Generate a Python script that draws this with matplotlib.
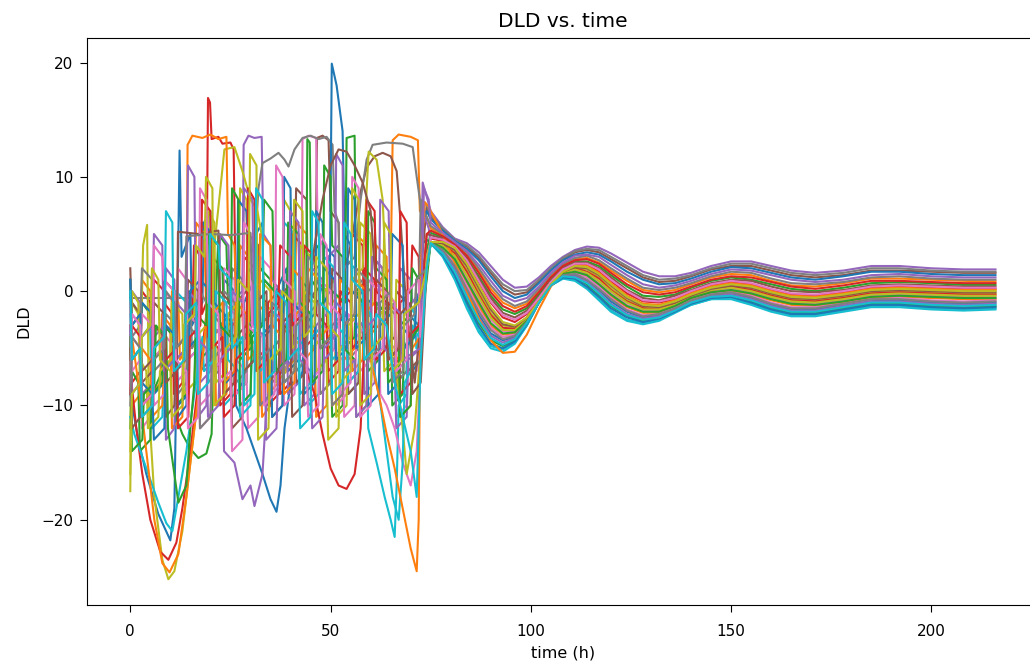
import matplotlib
matplotlib.use("Agg")
import matplotlib.pyplot as plt

# shared sample times for the settling part of every run (h)
tail_t = [75, 78, 81, 84, 87, 90, 93, 96, 99, 102, 105, 108, 111, 114, 117, 120, 124,
          128, 132, 136, 140, 145, 150, 155, 160, 165, 171, 178, 185, 192, 200, 208, 216]

# early part of each run as (time, DLD) pairs, settling part sampled on tail_t
early00 = [(0, -9), (2, -13), (4, -16), (7, -19.5), (10, -21.8), (11, -19), (11.5, -8), (12.3, 12.3),
           (12.8, 3), (15, 5), (15.4, -3), (18, -1), (18.4, 6), (20, 7), (20.4, -6), (23, -5), (23.4, 1),
           (26, 0), (26.4, -9), (28, -8), (28.4, -1), (31, 1), (31.4, 5), (33, 6), (33.4, -4), (36, -3),
           (36.4, 0), (39, 2), (39.4, -7), (42, -6), (42.4, 1), (45, 0), (45.4, -5), (48, -4), (48.4, 4),
           (51, 3), (51.4, -3), (54, -2), (54.4, -9), (57, -8), (57.4, 0), (60, -1), (60.4, -6), (63, -5),
           (63.4, -2), (66, -1), (66.4, -8), (69, -7), (69.4, -2), (72, -3), (72.4, 4), (74, 4.5)]
tail00 = [4.2, 3.5, 2.1, 0.0, -2.1, -3.7, -4.3, -4.0, -2.7, -1.0, 0.5, 1.3, 1.4, 0.9, 0.1, -0.9, -1.8,
          -2.3, -2.1, -1.5, -0.9, -0.3, -0.2, -0.6, -1.2, -1.6, -1.6, -1.2, -0.8, -0.8, -1.0, -1.1, -1.0]

early01 = [(0, -1), (0.4, -6), (2.5, -5), (2.9, 1), (5, 0), (5.4, -9), (7.5, -8), (7.9, -2), (10, -3),
           (10.4, -12), (13, -11), (13.4, -4), (16, -2), (16.4, 6), (18.5, 5), (18.9, -1), (21, -2),
           (21.4, -10), (24, -9), (24.4, -3), (27, -2), (27.4, 4), (29.5, 3), (29.9, -5), (32.5, -6),
           (32.9, -11), (35, -10), (35.4, -2), (38, -3), (38.4, -7), (41, -6), (41.4, 6), (44, 5),
           (44.4, -3), (47, -4), (47.4, -9), (50, -8), (50.4, -1), (53, 0), (53.4, -6), (56, -5), (56.4, 5),
           (59, 4), (59.4, -4), (62, -3), (62.4, 1), (65, 2), (65.5, 13.2), (67, 13.7), (70, 13.5),
           (71.8, 13.2), (72.3, 7), (74, 6.5)]
tail01 = [5.5, 4.9, 4.2, 3.2, 1.8, 0.2, -1.0, -1.5, -1.1, 0.1, 1.3, 2.3, 2.8, 2.9, 2.5, 1.8, 0.9,
          0.1, -0.1, 0.1, 0.6, 1.2, 1.5, 1.4, 0.9, 0.5, 0.4, 0.7, 1.1, 1.1, 1.0, 0.9, 0.85]

early02 = [(0, 1), (0.4, -6), (2.5, -5), (2.9, -1), (5, -2), (5.4, -9), (8, -7), (8.4, -3), (11, -4),
           (11.4, -11), (13, -12.5), (15, -13.8), (17, -14.6), (19, -14.2), (20.3, -12.5), (20.8, -6),
           (22, 5), (24, 4), (24.4, -1), (27, -2), (27.4, -6), (30, -5), (30.4, 1), (33, 2), (33.4, 8),
           (35.5, 7), (35.9, 0), (38, -1), (38.4, -8), (41, -7), (41.4, -2), (44, -1), (44.4, 3), (47, 4),
           (47.4, -4), (50, -5), (50.4, -11), (53, -10), (53.4, -5), (56, -4), (56.4, 0), (59, 1),
           (59.4, -7), (62, -6), (62.4, -2), (65, -1), (65.4, -10), (68, -9), (68.4, -5), (71, -3),
           (71.4, 1), (73, 2), (74, 3)]
tail02 = [4.2, 3.3, 1.5, -0.8, -2.8, -4.3, -4.8, -4.3, -2.9, -1.0, 0.5, 1.2, 1.2, 0.6, -0.4, -1.3, -2.2,
          -2.6, -2.4, -1.7, -1.0, -0.5, -0.5, -0.9, -1.5, -1.9, -1.9, -1.5, -1.1, -1.1, -1.3, -1.4, -1.3]

early03 = [(0, -3), (0.4, -8), (2.5, -7), (2.9, 0), (5, -1), (5.4, -6), (8, -5), (8.4, -1), (10.5, -2),
           (10.9, -9), (13, -8), (13.4, -3), (15.5, -2), (15.9, 4), (17.5, 3), (17.9, -2), (19, -1),
           (19.4, 16.9), (19.9, 16.5), (20.3, 13.3), (22, 13.5), (23, 12.9), (25, 13.0), (25.8, 12.4),
           (26.3, 0), (28, -1), (28.4, -7), (31, -6), (31.4, 0), (34, -1), (34.4, -10), (37, -9),
           (37.4, -3), (40, -2), (40.4, 5), (43, 4), (43.4, -5), (46, -4), (46.4, 1), (49, 0), (49.4, -8),
           (52, -7), (52.4, -1), (55, 0), (55.4, 5), (58, 4), (58.4, -4), (61, -3), (61.4, 1), (64, 0),
           (64.4, -7), (67, -6), (67.4, -1), (70, 0), (70.4, 4), (72, 3), (72.4, -3), (74, 3.5)]
tail03 = [4.6, 4.4, 3.9, 2.6, 0.8, -1.0, -2.3, -2.7, -2.0, -0.7, 0.8, 1.8, 2.3, 2.3, 1.7, 0.9, -0.2,
          -0.9, -1.0, -0.7, -0.1, 0.5, 0.8, 0.6, 0.1, -0.3, -0.4, -0.1, 0.3, 0.4, 0.3, 0.2, 0.2]

early04 = [(0, -5), (0.4, 0), (2.5, -1), (2.9, -9), (5.5, -8), (5.9, -4), (8.5, -3), (8.9, 2), (11, 1),
           (11.4, -6), (14, -5), (14.4, -1), (16.5, -2), (16.9, -11), (19, -10), (19.4, -3), (22, -2),
           (22.4, 5), (24.5, 4), (24.9, -1), (28, 0), (28.3, 12.8), (29.5, 13.6), (31, 13.4), (32.8, 13.5),
           (33.2, 5), (35, 4), (35.4, 1), (37.5, 0), (37.9, -7), (40.5, -6), (40.9, -1), (43, -2),
           (43.4, -10), (46, -9), (46.4, -3), (49, -2), (49.4, 3), (52, 4), (52.4, -5), (55, -4), (55.4, 0),
           (58, -1), (58.4, -9), (61, -8), (61.4, -2), (64, -3), (64.4, -6), (67, -5), (67.4, 2), (70, 1),
           (70.4, -1), (72.4, 0), (73, 9.5)]
tail04 = [7.0, 5.6, 4.6, 4.2, 3.4, 2.2, 1.0, 0.3, 0.4, 1.2, 2.2, 3.0, 3.6, 3.9, 3.8, 3.3, 2.5,
          1.7, 1.3, 1.3, 1.6, 2.2, 2.6, 2.6, 2.2, 1.8, 1.6, 1.8, 2.2, 2.2, 2.0, 1.9, 1.9]

early05 = [(0, 2), (0.4, -3), (2.5, -2), (2.9, -10), (5, -9), (5.4, -5), (8, -4), (8.4, 1), (11, 0),
           (11.4, -7), (14, -6), (14.4, -2), (17, -1), (17.4, 6), (20, 5), (20.4, -4), (23, -3), (23.4, -9),
           (26, -8), (26.4, -1), (29, 0), (29.4, 5), (32, 4), (32.4, -3), (35, -2), (35.4, -8), (38, -7),
           (38.4, 0), (41, 1), (41.4, 9), (44, 8), (44.4, -1), (46.2, 0), (46.6, 13.4), (48, 13.6),
           (49.5, 13.2), (50, 7), (52, 6), (52.4, -2), (54, -3), (54.4, -9), (57, -8), (57.4, -3), (60, -2),
           (60.4, 3), (63, 2), (63.4, -5), (66, -4), (66.4, 0), (69, -1), (69.4, -7), (72, -6), (72.4, 1),
           (74, 7.5)]
tail05 = [6.5, 5.4, 4.5, 3.9, 2.9, 1.6, 0.3, -0.3, -0.1, 0.8, 1.9, 2.8, 3.4, 3.6, 3.4, 2.8, 2.0,
          1.2, 0.8, 0.9, 1.3, 1.9, 2.2, 2.2, 1.8, 1.4, 1.2, 1.4, 1.8, 1.8, 1.7, 1.6, 1.6]

early06 = [(0, -9), (0.4, -4), (2.5, -5), (2.9, -12), (5, -11), (5.4, -6), (8, -5), (8.4, 0), (11, -1),
           (11.4, -8), (14, -7), (14.4, -2), (17, -3), (17.4, -10), (20, -9), (20.4, -5), (23, -4),
           (23.4, 2), (26, 1), (26.4, -6), (29, -7), (29.4, -12), (32, -11), (32.4, -4), (35, -3),
           (35.4, -9), (38, -8), (38.4, -1), (41, -2), (41.4, -6), (42.6, -5), (43, 13.3), (44.5, 13.6),
           (46.4, 13.4), (46.8, 5), (48, 4), (48.4, -3), (51, -4), (51.4, -10), (54, -9), (54.4, -2),
           (57, -3), (57.4, -7), (60, -6), (60.4, 1), (63, 0), (63.4, -4), (66, -5), (66.4, -11), (69, -10),
           (69.4, -3), (71.5, -4), (71.9, -7), (73, -1), (74, 2.5)]
tail06 = [4.3, 3.9, 2.9, 1.2, -0.8, -2.5, -3.5, -3.5, -2.5, -0.9, 0.6, 1.5, 1.8, 1.5, 0.8, -0.1, -1.2,
          -1.7, -1.7, -1.2, -0.6, 0.0, 0.2, -0.1, -0.6, -1.0, -1.1, -0.8, -0.4, -0.3, -0.4, -0.5, -0.5]

early07 = [(0, -0.6), (15, -0.6), (15.4, -5), (17, -4), (17.4, 0), (19, -1), (19.4, -8), (22, -7),
           (22.4, -3), (25, -2), (25.4, 2), (28, 1), (28.4, -4), (30.5, -3), (31, 3), (32, 9), (33, 11.2),
           (35, 11.6), (37, 12.1), (38.5, 11.5), (39.5, 10.9), (41, 12.4), (43, 13.4), (45, 13.6),
           (47, 13.3), (49, 13.5), (50.5, 12.8), (51, 7), (52, 6), (52.4, 0), (54, -1), (54.4, -6),
           (57, -5), (57.4, 1), (60, 0), (60.4, -5), (63, -4), (63.4, -1), (66, -2), (66.4, -8), (69, -7),
           (69.4, -2), (72, -1), (72.5, 8), (74, 7.5)]
tail07 = [6.7, 5.5, 4.5, 4.0, 3.1, 1.8, 0.6, 0.0, 0.1, 1.0, 2.0, 2.9, 3.5, 3.7, 3.6, 3.0, 2.2,
          1.4, 1.0, 1.1, 1.4, 2.0, 2.4, 2.4, 2.0, 1.6, 1.4, 1.6, 2.0, 2.0, 1.8, 1.7, 1.7]

early08 = [(0, -17.5), (0.4, -1), (2, -2), (2.4, -8), (3.2, 4), (4.2, 5.8), (4.6, -10), (6, -18),
           (8, -23.5), (9.5, -25.2), (11, -24.5), (13, -21), (15, -15), (17, -9), (19, -3), (21, 4),
           (22.5, 9), (23.5, 12.4), (26, 12.6), (28, 10.5), (30, 8), (31.7, 7.1), (33, 4.5), (33.4, -1),
           (36, -2), (36.4, -8), (39, -7), (39.4, -2), (42, -1), (42.4, 4), (45, 3), (45.4, -5), (48, -4),
           (48.4, 0), (51, 1), (51.4, -11), (54, -10), (54.4, -3), (57, -2), (57.4, 6), (60, 5),
           (60.4, -1), (63, -2), (63.4, -7), (66, -6), (66.4, 1), (69, 0), (69.4, -4), (72, -3), (72.4, -1),
           (74, 2)]
tail08 = [4.3, 4.1, 3.5, 1.9, 0.0, -1.9, -3.0, -3.2, -2.4, -0.9, 0.6, 1.6, 2.0, 1.9, 1.2, 0.3, -0.8,
          -1.4, -1.5, -1.0, -0.4, 0.2, 0.4, 0.2, -0.3, -0.7, -0.8, -0.5, -0.1, 0.0, -0.1, -0.2, -0.2]

early09 = [(0, -2), (0.4, -9), (2.5, -8), (2.9, -4), (5, -3), (5.4, -12), (8, -11), (8.4, -7), (11, -6),
           (11.4, 0), (14, -1), (14.4, -6), (17, -5), (17.4, 5), (20, 4), (20.4, -2), (23, -3), (23.4, -10),
           (26, -9), (26.4, -5), (29, -4), (29.4, 2), (32, 1), (32.4, -7), (35, -6), (35.4, -2), (38, -1),
           (38.4, 6), (41, 5), (41.4, -4), (44, -5), (44.4, -10), (47, -9), (47.4, -1), (50, -2),
           (50.4, -6), (53, -5), (53.4, 3), (56, 2), (56.4, -3), (59, -4), (59.4, -12), (61.5, -15),
           (63.5, -18), (65, -20), (66, -21.5), (66.5, -17), (67, -10), (69, -9), (69.4, -1), (71, -2),
           (71.4, -5), (73, -3), (74, 2)]
tail09 = [4.2, 3.0, 1.0, -1.5, -3.6, -5.0, -5.3, -4.6, -3.0, -1.0, 0.5, 1.1, 0.9, 0.2, -0.8, -1.8, -2.6,
          -2.9, -2.6, -1.9, -1.2, -0.7, -0.7, -1.2, -1.8, -2.2, -2.2, -1.8, -1.4, -1.4, -1.6, -1.7, -1.6]

early10 = [(0, 0), (0.4, -6), (2.5, -5), (2.9, -1), (5.5, -2), (5.9, -9), (8.5, -8), (8.9, -3), (11.5, -4),
           (11.9, -11), (14, -10), (14.4, -5), (17, -4), (17.4, 1), (20, 0), (20.4, -7), (23, -6),
           (23.4, -2), (26, -3), (26.4, -10), (29, -12), (31, -14), (33, -16), (35, -18.2), (36.5, -19.3),
           (37.5, -17), (38.5, -12), (40, -8), (42, -8), (43, -7), (43.4, -3), (46, -2), (46.4, 1), (48, 0),
           (48.4, -1), (49.8, 0), (50.3, 19.9), (51.5, 18), (53, 14), (53.5, 5), (55, 4), (55.4, 0),
           (58, -1), (58.4, -6), (61, -5), (61.4, -1), (64, -2), (64.4, -9), (67, -8), (67.4, -3), (70, -4),
           (70.4, -7), (72.4, -6), (73, 6), (74, 7)]
tail10 = [6.3, 5.3, 4.4, 3.7, 2.7, 1.3, 0.0, -0.6, -0.3, 0.7, 1.8, 2.7, 3.2, 3.4, 3.2, 2.6, 1.7,
          1.0, 0.6, 0.7, 1.1, 1.7, 2.1, 2.0, 1.6, 1.2, 1.0, 1.3, 1.7, 1.7, 1.5, 1.4, 1.4]

early11 = [(0, -4), (0.4, -10), (2.5, -9), (2.9, -5), (5, -6), (5.4, -11), (8, -10), (8.4, -7), (10, -6),
           (10.4, 0), (12, -1), (12.4, -6), (14, -5), (14.3, 12.8), (15.5, 13.6), (18, 13.4), (20, 13.7),
           (22, 13.3), (24, 13.5), (24.4, 5), (26, 4), (26.4, 0), (28, -1), (28.4, -7), (31, -6), (31.4, -2),
           (34, -1), (34.4, -9), (37, -8), (37.4, -4), (40, -3), (40.4, 2), (43, 1), (43.4, -6), (46, -5),
           (46.4, -11), (49, -10), (49.4, -4), (52, -3), (52.4, 1), (55, 0), (55.4, -7), (58, -6),
           (58.4, -2), (61, -1), (61.4, 4), (64, 3), (64.4, -5), (67, -6), (67.4, -11), (70, -10),
           (70.4, -5), (72.3, -4), (72.7, -1), (74, 4)]
tail11 = [4.3, 3.7, 2.6, 0.7, -1.3, -3.0, -3.8, -3.7, -2.6, -0.9, 0.6, 1.4, 1.6, 1.3, 0.5, -0.5, -1.4,
          -1.9, -1.9, -1.3, -0.7, -0.1, 0.0, -0.3, -0.8, -1.2, -1.3, -1.0, -0.6, -0.5, -0.6, -0.7, -0.7]

early12 = [(0, -12), (0.4, -7), (2, -8), (2.4, -14), (5, -13), (5.4, -9), (8, -8), (8.4, -3), (11, -4),
           (11.4, -10), (14, -9), (14.4, -1), (17, -2), (17.4, -6), (20, -5), (20.4, 3), (23, 2), (23.4, -3),
           (26, -4), (26.4, -9), (29, -8), (29.4, -4), (32, -3), (32.4, 2), (35, 1), (35.4, -5), (38, -4),
           (38.4, 0), (41, -1), (41.4, -7), (43.8, -6), (44.2, 13.3), (44.8, 13), (45.2, 1), (47, 0),
           (47.4, -5), (50, -4), (50.4, 0), (53.6, -1), (54, 13.4), (56, 13.6), (56.4, 0), (58, -1),
           (58.4, -6), (61, -5), (61.4, -1), (64, -2), (64.4, -8), (67, -7), (67.4, -3), (70, -2),
           (70.4, 2), (72, 1), (74, 3.5)]
tail12 = [5.1, 4.7, 4.0, 2.9, 1.3, -0.4, -1.6, -2.0, -1.5, -0.3, 1.1, 2.1, 2.6, 2.6, 2.2, 1.4, 0.4,
          -0.4, -0.5, -0.3, 0.3, 0.9, 1.2, 1.0, 0.6, 0.2, 0.0, 0.3, 0.7, 0.8, 0.7, 0.55, 0.55]

early13 = [(0, -7), (1.5, -12), (3, -16), (5, -20), (7.5, -22.8), (9.5, -23.5), (11.5, -22), (13, -19),
           (15, -14), (17, -8), (19, -2), (19.4, -4), (22, -5), (22.4, -10), (25, -9), (25.4, -3), (28, -2),
           (28.4, 3), (31, 2), (31.4, -6), (34, -5), (34.4, -1), (37, 0), (37.4, -9), (40, -8), (40.4, -3),
           (43, -2), (43.4, 4), (46, 3), (46.4, -2), (49, -3), (49.4, -7), (52, -6), (52.4, 0), (55, -1),
           (55.4, -5), (58, -4), (58.4, 2), (61, 1), (61.4, -6), (64, -5), (64.4, -1), (67, -2), (67.4, -9),
           (70, -8), (70.4, -4), (72.5, -3), (74, 3)]
tail13 = [4.3, 4.1, 3.3, 1.7, -0.3, -2.1, -3.2, -3.3, -2.4, -0.9, 0.6, 1.6, 2.0, 1.7, 1.1, 0.1, -0.9,
          -1.5, -1.6, -1.1, -0.5, 0.1, 0.4, 0.1, -0.4, -0.8, -0.9, -0.6, -0.2, -0.1, -0.2, -0.3, -0.3]

early14 = [(0, -8), (0.4, -2), (2.5, -3), (2.9, -10), (5.5, -9), (5.9, -5), (8.5, -4), (8.9, -13),
           (11, -12), (11.4, -6), (14, -5), (14.4, 0), (17, -1), (17.4, -8), (20, -7), (20.4, -3), (23, -4),
           (23.4, -14), (26, -15), (28, -18.2), (30, -17), (31, -18.8), (33, -16), (34, -10), (36, -6),
           (36.4, -2), (39, -3), (39.4, -9), (42, -8), (42.4, -4), (45, -3), (45.4, 2), (48, 1), (48.4, -6),
           (51, -5), (51.4, -1), (54, -2), (54.4, -8), (57, -7), (57.4, -3), (60, -2), (60.4, 3), (63, 2),
           (63.4, -5), (66, -6), (66.4, -12), (69, -11), (69.4, -6), (72.4, -5), (73, 7), (74.5, 5.5)]
tail14 = [4.2, 3.4, 1.9, -0.3, -2.3, -3.9, -4.5, -4.1, -2.8, -1.0, 0.5, 1.3, 1.3, 0.8, -0.1, -1.1, -2.0,
          -2.4, -2.2, -1.6, -0.9, -0.4, -0.3, -0.7, -1.3, -1.7, -1.7, -1.3, -0.9, -0.9, -1.1, -1.2, -1.1]

early15 = [(0, -6), (0.4, -1), (2.5, -2), (2.9, -8), (5.5, -7), (5.9, -3), (8.5, -4), (8.9, -11), (11, -10),
           (11.4, -5), (14, -4), (14.4, 1), (17, 0), (17.4, -7), (20, -6), (20.4, -2), (23, -3), (23.4, -9),
           (26, -8), (26.4, -4), (29, -3), (29.4, 2), (32, 1), (32.4, -6), (35, -5), (35.4, -11), (38, -10),
           (38.4, -3), (41, -4), (41.4, -8), (44, -7), (44.4, 0), (47, -1), (47.4, -5), (50, -4), (50.4, 2),
           (53, 1), (55, 4), (57, 8), (59, 10.8), (61, 11.8), (63, 12.1), (65, 11.8), (66.5, 10.5),
           (67.5, 6), (69, -2), (71, -8), (72.5, -3), (74, 5)]
tail15 = [4.9, 4.6, 4.0, 2.8, 1.1, -0.6, -1.9, -2.3, -1.7, -0.5, 0.9, 2.0, 2.5, 2.5, 2.0, 1.2, 0.1,
          -0.6, -0.8, -0.4, 0.1, 0.7, 1.0, 0.9, 0.4, 0.0, -0.1, 0.1, 0.5, 0.6, 0.5, 0.4, 0.4]

early16 = [(0, -1), (0.4, -7), (2.5, -6), (2.9, -2), (5.5, -3), (5.9, -10), (8.5, -9), (8.9, -4),
           (11.5, -5), (11.9, 2), (14, 1), (14.4, -6), (17, -5), (17.4, -12), (20, -11), (20.4, -7), (23, -6),
           (23.4, -1), (26, -2), (26.4, -9), (29, -8), (29.4, -3), (32, -4), (32.4, 3), (35, 2), (35.4, -5),
           (38, -4), (38.4, -10), (41, -9), (41.4, -2), (44, -3), (44.4, -8), (47, -7), (47.4, 1), (50, 0),
           (50.4, -5), (53, -6), (53.4, -11), (56, -10), (56.4, -4), (59, -3), (59.4, 1), (62, 0),
           (62.4, -9), (64, -10), (66, -12), (68, -15), (70, -17), (71.5, -14), (72.5, -6), (74, 3)]
tail16 = [4.3, 3.7, 2.4, 0.5, -1.6, -3.2, -4.0, -3.8, -2.7, -1.0, 0.6, 1.4, 1.6, 1.2, 0.4, -0.6, -1.6,
          -2.1, -2.0, -1.4, -0.8, -0.2, -0.1, -0.4, -1.0, -1.4, -1.4, -1.1, -0.7, -0.6, -0.8, -0.9, -0.8]

early17 = [(0, 1), (0.4, -4), (2.5, -3), (2.9, 2), (5.5, 1), (5.9, -7), (8.5, -6), (8.9, -2), (11.5, -3),
           (11.9, -9), (14, -8), (14.4, -3), (17, -4), (17.4, -12), (20, -11), (20.4, -6), (23, -5),
           (23.4, 0), (26, -1), (26.4, -8), (29, -7), (29.4, -3), (32, -2), (32.4, -10), (35, -9),
           (35.4, -5), (38, -4), (38.4, 1), (41, 0), (41.4, -7), (44, -6), (44.4, -2), (47, -1), (47.4, -9),
           (50, -8), (50.4, -3), (53, -2), (53.4, 2), (56, 3), (57.5, 8), (59, 11.5), (60.5, 12.8),
           (64, 13.0), (68, 12.9), (70.5, 12.6), (71.5, 10), (72.5, 7.5), (74, 6.5)]
tail17 = [5.7, 5.0, 4.2, 3.4, 2.0, 0.5, -0.7, -1.3, -0.9, 0.2, 1.5, 2.4, 2.9, 3.1, 2.7, 2.0, 1.1,
          0.3, 0.1, 0.3, 0.7, 1.3, 1.7, 1.6, 1.1, 0.7, 0.6, 0.8, 1.2, 1.3, 1.1, 1.0, 1.0]

early18 = [(0, -14), (0.4, 0), (2, -1), (2.4, -6), (4, -7), (4.4, -12), (7, -11), (7.4, -7), (10, -6),
           (10.4, -1), (13, -2), (13.4, -9), (16, -8), (16.4, -4), (19, -3), (19.4, 7), (21, 6), (21.4, -8),
           (24, -7), (24.4, -2), (27, -1), (27.4, 9), (29, 8), (29.4, -5), (32, -4), (32.4, 1), (35, 0),
           (35.4, -6), (38, -5), (38.4, 8), (40, 7), (40.4, -5), (43, -4), (43.4, 0), (46, -1), (46.4, -7),
           (49, -6), (49.4, -13), (52, -12), (52.4, -5), (55, -4), (55.4, 1), (58, 2), (59.5, 12.2),
           (61.5, 11.5), (63, 8), (64, 0), (66, -1), (66.4, -7), (68, -12), (69, -16), (71, -12),
           (72.5, -5), (74, 3)]
tail18 = [4.3, 4.0, 3.1, 1.4, -0.5, -2.3, -3.4, -3.4, -2.5, -0.9, 0.6, 1.6, 1.9, 1.6, 0.9, 0.0, -1.0,
          -1.6, -1.6, -1.2, -0.5, 0.1, 0.3, 0.0, -0.5, -0.9, -1.0, -0.7, -0.3, -0.2, -0.3, -0.4, -0.4]

early19 = [(0, -11), (1, -12.5), (3, -14.5), (5, -16.5), (7, -18.5), (9, -20.3), (10.5, -21), (12, -18),
           (14, -14), (16, -9), (18, -4), (18.4, -7), (21, -6), (21.4, 0), (24, -1), (24.4, -6), (27, -7),
           (27.4, -11), (30, -10), (30.4, -4), (33, -3), (33.4, 1), (36, 0), (36.4, -7), (39, -6),
           (39.4, -2), (42, -3), (42.4, -9), (45, -8), (45.4, -4), (48, -3), (48.4, 3), (51, 2), (51.4, -3),
           (54, -4), (54.4, -8), (57, -7), (57.4, -1), (60, -2), (60.4, -6), (62.5, -10), (64, -14),
           (65.5, -18), (67, -20), (68, -15), (68.5, -8), (70, -7), (70.4, -3), (72, -4), (74, 2)]
tail19 = [4.2, 3.1, 1.2, -1.3, -3.4, -4.8, -5.1, -4.5, -3.0, -1.0, 0.5, 1.1, 1.0, 0.3, -0.7, -1.7, -2.5,
          -2.8, -2.5, -1.8, -1.2, -0.7, -0.6, -1.1, -1.7, -2.1, -2.1, -1.7, -1.3, -1.3, -1.5, -1.6, -1.5]

early20 = [(0, 1), (0.4, -3), (2.5, -2), (2.9, -8), (5.5, -9), (5.9, -13), (8.5, -12), (8.9, -3),
           (11.5, -4), (11.9, -10), (14.5, -9), (14.9, 0), (17.5, 1), (17.9, 6), (20.5, 5), (20.9, -1),
           (23.5, -2), (23.9, -8), (26.5, -7), (26.9, 8), (29, 7), (29.4, 4), (32, 3), (32.4, -4), (35, -3),
           (35.4, -11), (38, -10), (38.4, 10), (40, 9), (40.4, -1), (43, -2), (43.4, -9), (46, -8),
           (46.4, 7), (48, 6), (48.4, 2), (51, 1), (51.4, -6), (54, -5), (54.4, 9), (56, 8), (56.4, -5),
           (59, -4), (59.4, -10), (62, -9), (62.4, -3), (65, -2), (65.4, 5), (68, 4), (68.4, -5), (71, -4),
           (71.4, -1), (74, 2)]
tail20 = [4.2, 3.2, 1.4, -1.0, -3.1, -4.6, -5.0, -4.4, -2.9, -1.0, 0.5, 1.2, 1.1, 0.4, -0.5, -1.5, -2.3,
          -2.7, -2.4, -1.8, -1.1, -0.6, -0.5, -1.0, -1.6, -2.0, -2.0, -1.6, -1.2, -1.2, -1.4, -1.5, -1.4]

early21 = [(0, -3), (2, -8), (4, -14), (6, -20), (8, -23.8), (9.8, -24.6), (12, -23), (14, -18),
           (16, -12), (18, -6), (20, 1), (20.4, -2), (23, -1), (23.4, -8), (26, -7), (26.4, -1), (29, -2),
           (29.4, -6), (32, -5), (32.4, 5), (35, 4), (35.4, -3), (38, -4), (38.4, -9), (41, -8), (41.4, -2),
           (44, -1), (44.4, 2), (47, 1), (47.4, -4), (50, -3), (50.4, -10), (53, -9), (53.4, -3), (56, -2),
           (56.4, 1), (59, 0), (60, -6), (62, -9), (64, -12.5), (66, -15.5), (68, -19), (70, -22.5),
           (71.5, -24.5), (72, -20), (72.5, 2), (73.5, 7.8), (74.5, 7.4)]
tail21 = [7.0, 5.0, 2.5, 0.0, -2.4, -4.3, -5.4, -5.3, -3.8, -1.6, 0.4, 1.6, 2.2, 2.2, 1.6, 0.7, -0.4,
          -1.1, -1.2, -0.8, -0.2, 0.4, 0.7, 0.5, 0.0, -0.4, -0.5, -0.2, 0.2, 0.3, 0.2, 0.1, 0.1]

early22 = [(0, -4), (0.4, -14), (3, -13), (3.4, -9), (6, -8), (6.4, -3), (9, -4), (9.4, -12), (12, -18.5),
           (14, -17), (15, -12), (16, -8), (16.4, -2), (19, -3), (19.4, 5), (22, 4), (22.4, -3), (25, -4),
           (25.4, 9), (27, 8), (27.4, -10), (30, -9), (30.4, -4), (33, -3), (33.4, 1), (36, 0), (36.4, -7),
           (39, -6), (39.4, 6), (42, 5), (42.4, -1), (45, -2), (45.4, -8), (48, -7), (48.4, 11), (50, 10),
           (50.4, 4), (53, 3), (53.4, -5), (56, -6), (56.4, -11), (59, -10), (59.4, 7), (61, 6), (61.4, 2),
           (64, 1), (64.4, -6), (67, -5), (67.4, -11), (70, -10), (70.4, -4), (72.5, -3), (74, 1)]
tail22 = [4.3, 3.8, 2.8, 0.9, -1.0, -2.8, -3.7, -3.6, -2.6, -0.9, 0.6, 1.5, 1.7, 1.4, 0.6, -0.3, -1.3,
          -1.8, -1.8, -1.3, -0.6, -0.1, 0.1, -0.2, -0.7, -1.1, -1.2, -0.9, -0.5, -0.4, -0.5, -0.6, -0.6]

early23 = [(0, -9), (0.4, -3), (2.5, -4), (2.9, -10), (5.5, -9), (5.9, 1), (8.5, 0), (8.9, -6), (11.5, -5),
           (11.9, -12), (14.5, -11), (14.9, -4), (17.5, -3), (17.9, 8), (20, 7), (20.4, -5), (23, -4),
           (23.4, -11), (26, -10), (26.4, -6), (29, -5), (29.4, 9), (31, 8), (31.4, -7), (34, -6),
           (34.4, -2), (37, -1), (37.4, 4), (40, 3), (40.4, -3), (43, -2), (44, -7), (46, -9), (48, -12.5),
           (50, -15.5), (52, -17), (54, -17.3), (56, -16), (57.5, -12), (58.5, -4), (59, 8), (61, 7),
           (61.4, 0), (64, -1), (64.4, -6), (67, -5), (67.4, 7), (69, 6), (69.4, -4), (72, -3), (74, 5)]
tail23 = [5.3, 4.8, 4.1, 3.1, 1.6, -0.1, -1.3, -1.8, -1.3, -0.1, 1.2, 2.2, 2.7, 2.8, 2.4, 1.6, 0.6,
          -0.1, -0.3, -0.1, 0.4, 1.0, 1.3, 1.2, 0.8, 0.4, 0.2, 0.5, 0.9, 0.9, 0.8, 0.7, 0.7]

early24 = [(0, -3), (0.4, -9), (2.5, -8), (2.9, -4), (5.5, -3), (5.9, 5), (8, 4), (8.4, -7), (11, -6),
           (11.4, -1), (14, -2), (14.4, 11), (16, 10), (16.4, -4), (19, -5), (19.4, -11), (22, -10),
           (22.4, -6), (25, -5), (25.4, 0), (28, -1), (28.4, 9), (30.5, 8), (30.9, -3), (33.5, -4),
           (33.9, -13), (36.5, -12), (36.9, -7), (39.5, -6), (39.9, 7), (42, 6), (42.4, -6), (45, -7),
           (45.4, -12), (48, -11), (48.4, -5), (51, -4), (51.4, 12), (53, 11), (53.4, -7), (56, -6),
           (56.4, -11), (59, -10), (59.4, -3), (62, -2), (62.4, 8), (64.5, 7), (64.9, -1), (67.5, -2),
           (67.9, -6), (72.4, -5), (73.3, 9), (74.5, 8)]
tail24 = [6.0, 5.1, 4.3, 3.5, 2.3, 0.9, -0.4, -0.9, -0.6, 0.4, 1.6, 2.5, 3.1, 3.2, 3.0, 2.3, 1.4,
          0.6, 0.3, 0.5, 0.9, 1.5, 1.9, 1.8, 1.4, 1.0, 0.8, 1.0, 1.4, 1.5, 1.3, 1.2, 1.2]

early25 = [(0, -5), (0.4, -12), (2.5, -11), (2.9, -7), (5.5, -6), (5.9, -1), (8.5, -2), (8.9, -8),
           (11.5, -7), (11.9, 5.2), (17, 5.0), (22, 5.3), (22.4, 0), (25, -1), (25.4, -12), (28, -11),
           (28.4, -7), (31, -6), (31.4, -1), (34, 0), (34.4, -8), (37, -7), (37.4, -3), (40, -2),
           (40.4, -11), (43, -10), (44, -2), (46, 4), (48, 8), (50, 11), (52, 12.4), (54, 12.2), (56, 11),
           (58, 9.5), (60, 7), (61, 2), (61.4, 1), (64, 0), (64.4, -6), (67, -5), (67.4, -2), (70, -1),
           (70.4, -9), (72.5, -8), (74, 2)]
tail25 = [4.3, 4.2, 3.6, 2.2, 0.3, -1.6, -2.9, -3.1, -2.3, -0.9, 0.6, 1.7, 2.1, 2.0, 1.4, 0.5, -0.6,
          -1.3, -1.4, -1.0, -0.4, 0.2, 0.5, 0.3, -0.2, -0.6, -0.7, -0.4, 0.0, 0.1, 0.0, -0.1, -0.1]

early26 = [(0, -8), (0.4, -2), (2.5, -3), (2.9, -10), (5.5, -9), (5.9, 4), (8, 3), (8.4, 1), (11, 0),
           (11.4, -6), (14, -7), (14.4, -12), (17, -11), (17.4, 9), (19, 8), (19.4, -1), (22, -2),
           (22.4, -8), (25, -7), (25.4, -14), (28, -13), (28.4, 6), (30, 5), (30.4, -3), (33, -4),
           (33.4, -10), (36, -9), (36.4, 11), (38, 10), (38.4, 1), (41, 0), (41.4, -5), (44, -6),
           (44.4, -11), (47, -10), (47.4, 5), (49, 4), (49.4, -1), (52, -2), (52.4, -9), (55, -8),
           (55.4, 10), (57, 9), (57.4, -11), (60, -10), (60.4, -6), (63, -5), (63.4, 0), (66, -1),
           (66.4, -7), (69, -6), (69.4, 0), (72, 1), (72.4, -4), (74, 2)]
tail26 = [4.7, 4.5, 3.9, 2.7, 0.9, -0.9, -2.1, -2.5, -1.9, -0.6, 0.8, 1.9, 2.4, 2.4, 1.9, 1.0, 0.0,
          -0.8, -0.9, -0.6, 0.0, 0.6, 0.9, 0.7, 0.2, -0.2, -0.3, 0.0, 0.4, 0.5, 0.4, 0.3, 0.3]

early27 = [(0, -10), (0.4, -4), (2.5, -5), (2.9, -11), (5.5, -10), (5.9, -6), (8.5, -5), (8.9, 0), (11, -1),
           (11.4, -5), (13.6, -4), (14, 4.8), (20, 5.0), (25, 4.9), (30, 5.1), (30.4, 1), (32, 0),
           (32.4, -6), (35, -5), (35.4, -1), (38, -2), (38.4, -8), (41, -7), (41.4, -3), (44, -2), (44.4, 3),
           (47, 2), (47.4, -5), (50, -4), (50.4, -10), (53, -9), (53.4, -3), (56, -2), (56.4, 2), (59, 1),
           (59.4, -6), (62, -5), (62.4, -1), (65, 0), (65.4, -8), (68, -7), (68.4, -3), (71, -2),
           (71.4, 1), (74, 2)]
tail27 = [4.2, 3.6, 2.2, 0.2, -1.8, -3.4, -4.2, -3.9, -2.7, -1.0, 0.5, 1.4, 1.5, 1.0, 0.2, -0.7, -1.7,
          -2.2, -2.0, -1.5, -0.8, -0.3, -0.1, -0.5, -1.1, -1.5, -1.5, -1.1, -0.7, -0.7, -0.9, -1.0, -0.9]

early28 = [(0, -16), (0.4, -9), (2.5, -8), (2.9, -4), (5, -3), (5.4, 2), (7, 1), (7.4, -6), (10, -7),
           (10.4, -11), (13, -10), (13.4, -3), (16, -2), (16.4, 4), (18.5, 3), (18.9, 10), (20.5, 9),
           (20.9, -10), (23.5, -9), (23.9, -5), (26.5, -4), (26.9, 1), (29.5, 0), (29.9, 12), (31.5, 11),
           (31.9, -13), (34.5, -12), (34.9, -6), (37.5, -5), (37.9, 0), (40.5, -1), (40.9, 8), (43, 7),
           (43.4, -4), (46, -3), (46.4, 3), (49, 2), (49.4, -3), (52, -4), (52.4, -8), (55, -7), (55.4, 9),
           (57, 8), (57.4, -10), (60, -9), (60.4, -5), (63, -4), (63.4, 6), (65, 5), (65.4, -7), (68, -6),
           (68.4, -2), (72, -1), (74, 2)]
tail28 = [4.3, 4.3, 3.8, 2.4, 0.5, -1.4, -2.7, -3.0, -2.3, -0.9, 0.6, 1.7, 2.2, 2.1, 1.5, 0.6, -0.5,
          -1.2, -1.3, -0.9, -0.3, 0.3, 0.6, 0.4, -0.1, -0.5, -0.6, -0.3, 0.1, 0.2, 0.1, 0.0, 0.0]

early29 = [(0, 0), (0.4, -6), (2.5, -5), (2.9, -11), (5.5, -10), (5.9, -5), (8.5, -4), (8.9, 7), (10.5, 6),
           (10.9, -7), (13.5, -6), (13.9, -2), (16.5, -1), (16.9, -9), (19.5, -8), (19.9, 5), (22, 4),
           (22.4, 2), (25, 1), (25.4, -5), (28, -4), (28.4, -10), (31, -9), (31.4, 9), (33, 8), (33.4, -8),
           (36, -7), (36.4, 0), (39, -1), (39.4, -6), (42, -5), (42.4, -12), (45, -11), (45.4, 7), (47, 6),
           (47.4, -1), (50, -2), (50.4, -9), (53, -8), (53.4, 6), (55, 5), (55.4, 1), (58, 0), (58.4, -6),
           (61, -5), (61.4, -2), (64, -3), (66, -8), (68, -11), (70, -14), (71.5, -18), (72.5, -6), (74, 2)]
tail29 = [4.2, 3.3, 1.7, -0.5, -2.6, -4.1, -4.7, -4.2, -2.8, -1.0, 0.5, 1.3, 1.2, 0.7, -0.2, -1.2, -2.1,
          -2.5, -2.3, -1.7, -1.0, -0.5, -0.4, -0.8, -1.4, -1.8, -1.8, -1.4, -1.0, -1.0, -1.2, -1.3, -1.2]

runs = [(early00, tail00), (early01, tail01), (early02, tail02), (early03, tail03),
        (early04, tail04), (early05, tail05), (early06, tail06), (early07, tail07),
        (early08, tail08), (early09, tail09), (early10, tail10), (early11, tail11),
        (early12, tail12), (early13, tail13), (early14, tail14), (early15, tail15),
        (early16, tail16), (early17, tail17), (early18, tail18), (early19, tail19),
        (early20, tail20), (early21, tail21), (early22, tail22), (early23, tail23),
        (early24, tail24), (early25, tail25), (early26, tail26), (early27, tail27),
        (early28, tail28), (early29, tail29)]

fig = plt.figure(figsize=(10.3, 6.61), dpi=100)
ax = fig.add_axes([0.0845, 0.0847, 0.924, 0.858])

for early, tail in runs:
    t = [p[0] for p in early] + tail_t
    v = [p[1] for p in early] + tail
    ax.plot(t, v)

ax.set_title("DLD vs. time", fontsize=14.5, pad=8)
ax.set_xlabel("time (h)", fontsize=11.5)
ax.set_ylabel("DLD", fontsize=11.5, labelpad=7)
ax.tick_params(labelsize=11, length=5, pad=5)
ax.tick_params(axis="x", pad=9)

fig.savefig("out.png", dpi=100)
